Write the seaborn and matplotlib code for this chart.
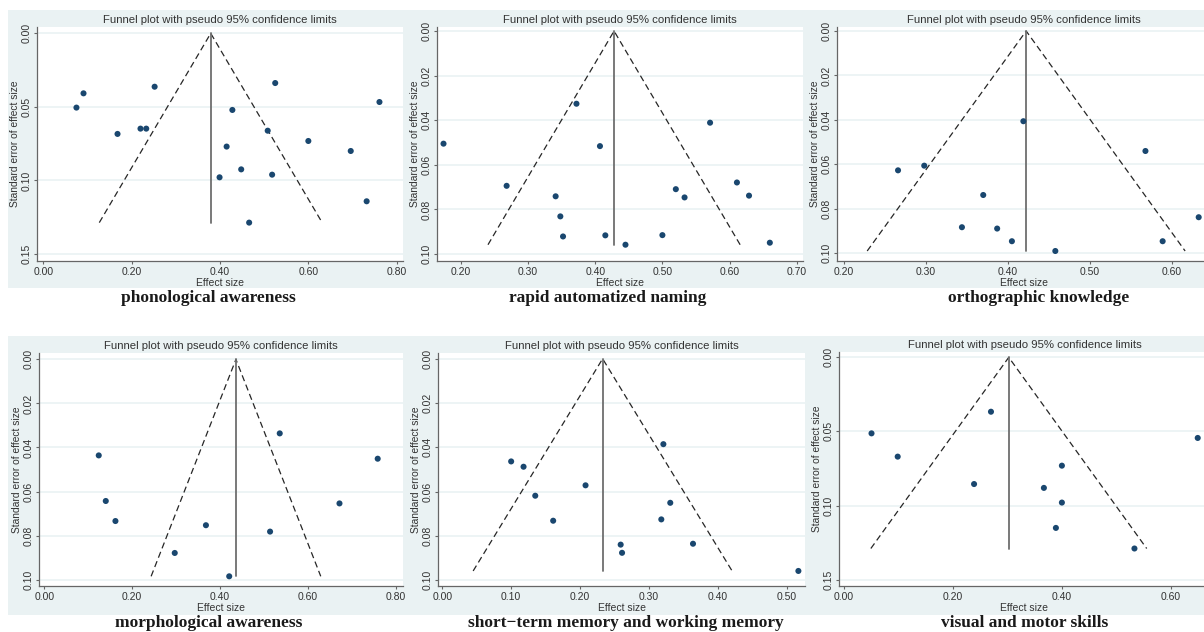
import numpy as np
import pandas as pd
import matplotlib
matplotlib.use("Agg")
import matplotlib.pyplot as plt
import seaborn as sns
from matplotlib.patches import Rectangle

sns.set_theme(style="white")
plt.rcParams['font.family'] = ['Liberation Sans', 'DejaVu Sans']

W, H = 1204, 632

# effect sizes / standard errors
pa_es = [0.075, 0.091, 0.168, 0.220, 0.233, 0.252, 0.399, 0.415, 0.428, 0.448,
         0.466, 0.508, 0.518, 0.525, 0.600, 0.696, 0.732, 0.761]
pa_se = [0.0505, 0.0408, 0.0684, 0.0648, 0.0648, 0.0363, 0.0979, 0.0770, 0.0521, 0.0925,
         0.1287, 0.0662, 0.0961, 0.0338, 0.0732, 0.0800, 0.1142, 0.0467]

ran_es = [0.174, 0.268, 0.341, 0.348, 0.352, 0.372, 0.407, 0.415, 0.445, 0.500,
          0.520, 0.533, 0.571, 0.611, 0.629, 0.660]
ran_se = [0.0505, 0.0694, 0.0741, 0.0831, 0.0921, 0.0326, 0.0516, 0.0916, 0.0958, 0.0915,
          0.0709, 0.0746, 0.0411, 0.0679, 0.0738, 0.0949]

ok_es = [0.266, 0.298, 0.370, 0.344, 0.387, 0.405, 0.419, 0.458, 0.568, 0.589, 0.633]
ok_se = [0.0627, 0.0606, 0.0738, 0.0883, 0.0889, 0.0946, 0.0406, 0.0990, 0.0540, 0.0946, 0.0838]

ma_es = [0.124, 0.140, 0.162, 0.297, 0.368, 0.421, 0.514, 0.536, 0.672, 0.759]
ma_se = [0.0436, 0.0643, 0.0734, 0.0879, 0.0753, 0.0985, 0.0782, 0.0336, 0.0654, 0.0451]

mem_es = [0.100, 0.118, 0.135, 0.161, 0.208, 0.259, 0.261, 0.318, 0.321, 0.331, 0.364, 0.517]
mem_se = [0.0464, 0.0488, 0.0619, 0.0732, 0.0572, 0.0840, 0.0877, 0.0726, 0.0386, 0.0651,
          0.0836, 0.0959]

vm_es = [0.051, 0.099, 0.239, 0.270, 0.367, 0.400, 0.400, 0.389, 0.533, 0.649]
vm_se = [0.0513, 0.0670, 0.0855, 0.0367, 0.0881, 0.0731, 0.0980, 0.1151, 0.1290, 0.0544]

# pooled estimates (apex of each funnel)
pooled = [0.379, 0.428, 0.4224, 0.4363, 0.2328, 0.3026]

subtitles = ["phonological awareness", "rapid automatized naming", "orthographic knowledge",
             "morphological awareness", "short\u2212term memory and working memory",
             "visual and motor skills"]
title = "Funnel plot with pseudo 95% confidence limits"

xticks = [[0, 0.2, 0.4, 0.6, 0.8], [0.2, 0.3, 0.4, 0.5, 0.6, 0.7], [0.2, 0.3, 0.4, 0.5, 0.6],
          [0, 0.2, 0.4, 0.6, 0.8], [0, 0.1, 0.2, 0.3, 0.4, 0.5], [0, 0.2, 0.4, 0.6]]
yticks = [[0, 0.05, 0.10, 0.15], [0, 0.02, 0.04, 0.06, 0.08, 0.10], [0, 0.02, 0.04, 0.06, 0.08, 0.10],
          [0, 0.02, 0.04, 0.06, 0.08, 0.10], [0, 0.02, 0.04, 0.06, 0.08, 0.10], [0, 0.05, 0.10, 0.15]]

series = [(pa_es, pa_se), (ran_es, ran_se), (ok_es, ok_se),
          (ma_es, ma_se), (mem_es, mem_se), (vm_es, vm_se)]

# layout in pixels (left, top, right, bottom) of plot regions, and axis limits
boxes = [(37, 27, 403, 261), (437, 27, 803, 261), (837, 27, 1210, 261),
         (39, 353, 403, 586), (438, 353, 805, 586), (839, 352, 1210, 586)]
xlims = [(-0.0143, 0.8143), (0.1643, 0.7094), (0.1915, 0.6468),
         (-0.012, 0.8166), (-0.0062, 0.5266), (-0.0086, 0.6715)]
ylims = [(-0.0043, 0.1548), (-0.0018, 0.1031), (-0.0018, 0.1035),
         (-0.0029, 0.1029), (-0.0026, 0.1027), (-0.0036, 0.1543)]
sub_x = [208, 608, 1039, 209, 626, 1025]

BG = '#EAF2F3'
NAVY = '#1A476F'

fig = plt.figure(figsize=(W / 100, H / 100), dpi=100)
fig.patch.set_facecolor('white')

# light panel backgrounds (Stata s2color)
for (y0, y1) in [(10, 288), (336, 615)]:
    fig.patches.append(Rectangle((8 / W, 1 - y1 / H), (W - 8) / W, (y1 - y0) / H,
                                 transform=fig.transFigure, facecolor=BG, edgecolor='none', zorder=-10))

for i in range(6):
    l, t, r, b = boxes[i]
    ax = fig.add_axes([l / W, 1 - b / H, (r - l) / W, (b - t) / H])
    ax.set_zorder(1)
    ax.set_facecolor('white')
    es, se = series[i]
    df = pd.DataFrame({'es': es, 'se': se})
    p = pooled[i]
    smax = df['se'].max()

    ax.plot([p - 1.96 * smax, p, p + 1.96 * smax], [smax, 0, smax], ls=(0, (5, 3)),
            color='#262626', lw=0.9, zorder=2)
    ax.plot([p, p], [0, smax], color='#6e6e6e', lw=1.3, zorder=2)
    sns.scatterplot(data=df, x='es', y='se', ax=ax, color=NAVY, s=19, edgecolor='none', zorder=3)

    ax.set_xlim(*xlims[i])
    ax.set_ylim(ylims[i][1], ylims[i][0])
    ax.set_xticks(xticks[i])
    ax.set_xticklabels([f"{v:.2f}" for v in xticks[i]])
    ax.set_yticks(yticks[i])
    ax.set_yticklabels([f"{v:.2f}" for v in yticks[i]], rotation=90, va='center', ha='center')
    ax.set_xlabel('')
    ax.set_ylabel('')
    ax.yaxis.grid(True, color=BG, lw=1.2)
    ax.set_axisbelow(True)
    for s in ['top', 'right']:
        ax.spines[s].set_visible(False)
    for s in ['left', 'bottom']:
        ax.spines[s].set_color('#666666')
        ax.spines[s].set_linewidth(0.9)
    ax.tick_params(axis='both', direction='out', length=2.2, width=0.8, color='#666666',
                   labelsize=7.5, labelcolor='#333333', bottom=True, left=True)
    ax.tick_params(axis='x', pad=2)
    ax.tick_params(axis='y', pad=5)

    cx = (l + r) / 2
    fig.text(cx / W, 1 - (t - 7) / H, title, ha='center', va='center', fontsize=8.2, color='#333333')
    fig.text(cx / W, 1 - (b + 22) / H, 'Effect size', ha='center', va='center', fontsize=7.5,
             color='#333333')
    fig.text((l - 22) / W, 1 - ((t + b) / 2) / H, 'Standard error of effect size', rotation=90,
             ha='center', va='center', fontsize=7.4, color='#333333')
    fig.text(sub_x[i] / W, 1 - (b + 37) / H, subtitles[i], ha='center', va='center',
             fontsize=12.5, fontweight='bold', family=['Liberation Serif', 'DejaVu Serif'],
             color='#1a1a1a')

fig.savefig('out.png', dpi=100, facecolor='white')
